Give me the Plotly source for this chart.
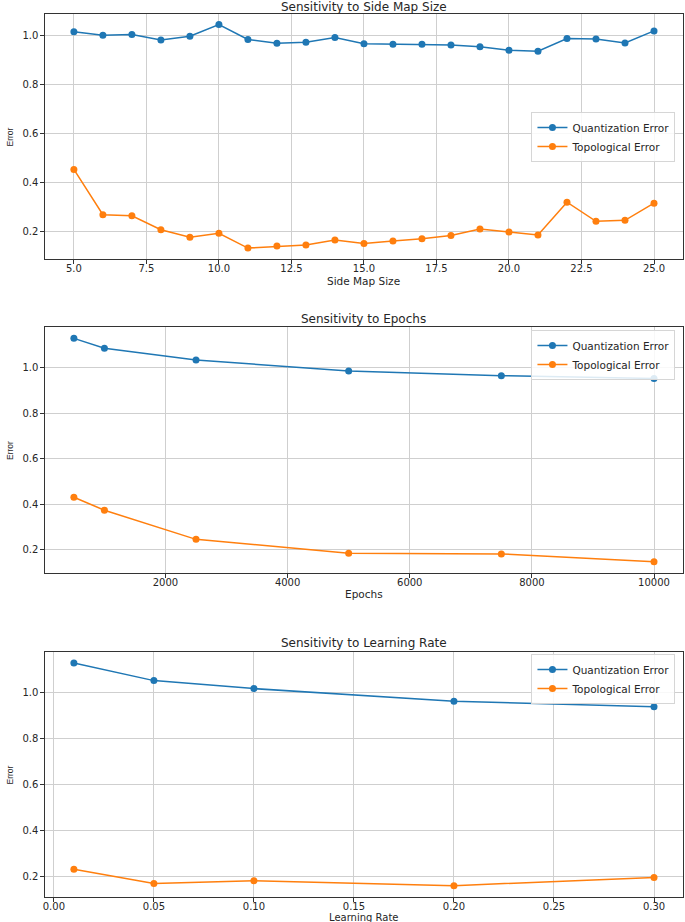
import plotly.graph_objects as go

# Sensitivity to Side Map Size
side_sizes = list(range(5, 26))
side_qe = [1.016, 1.001, 1.004, 0.982, 0.997, 1.045, 0.984, 0.969, 0.973, 0.992, 0.967,
           0.965, 0.965, 0.962, 0.954, 0.940, 0.936, 0.988, 0.986, 0.970, 1.019]
side_te = [0.454, 0.269, 0.265, 0.208, 0.177, 0.193, 0.133, 0.141, 0.146, 0.166, 0.152,
           0.162, 0.171, 0.184, 0.211, 0.199, 0.186, 0.320, 0.242, 0.246, 0.316]

# Sensitivity to Epochs
epochs = [500, 1000, 2500, 5000, 7500, 10000]
epochs_qe = [1.129, 1.086, 1.034, 0.985, 0.965, 0.953]
epochs_te = [0.430, 0.373, 0.245, 0.184, 0.181, 0.146]

# Sensitivity to Learning Rate
learning_rates = [0.01, 0.05, 0.10, 0.20, 0.30]
lr_qe = [1.131, 1.054, 1.019, 0.964, 0.940]
lr_te = [0.230, 0.168, 0.180, 0.158, 0.194]

AZUL = '#1f77b4'
LARANJA = '#ff7f0e'
FONTE = 'DejaVu Sans'
COR_TEXTO = '#262626'
W, H = 685, 922

# posições em pixels (a partir do topo) de cada painel
paineis = [
    dict(x=side_sizes, qe=side_qe, te=side_te, titulo='Sensitivity to Side Map Size',
         xtitulo='Side Map Size', top=14, bottom=259, ty=7, xty=281, xtam=10.5,
         xr=[4.0, 26.0], yr=[0.0884, 1.088],
         xticks=[5 + 2.5 * i for i in range(9)], xfmt='.1f',
         leg_y=137, leg_anchor='middle'),
    dict(x=epochs, qe=epochs_qe, te=epochs_te, titulo='Sensitivity to Epochs',
         xtitulo='Epochs', top=327, bottom=573, ty=319, xty=594, xtam=10.5,
         xr=[25, 10475], yr=[0.097, 1.179],
         xticks=[2000, 4000, 6000, 8000, 10000], xfmt='d',
         leg_y=330, leg_anchor='top'),
    dict(x=learning_rates, qe=lr_qe, te=lr_te, titulo='Sensitivity to Learning Rate',
         xtitulo='Learning Rate', top=652, bottom=897, ty=643, xty=917, xtam=10,
         xr=[-0.0045, 0.3145], yr=[0.1085, 1.179],
         xticks=[0.05 * i for i in range(7)], xfmt='.2f',
         leg_y=654, leg_anchor='top'),
]

fig = go.Figure()
x0, x1 = 43 / W, 683 / W

for i, p in enumerate(paineis):
    n = '' if i == 0 else str(i + 1)
    leg_nome = 'legend' + n
    fig.add_trace(go.Scatter(x=p['x'], y=p['qe'], name='Quantization Error', mode='lines+markers',
                             line=dict(color=AZUL, width=1.5), marker=dict(color=AZUL, size=7),
                             xaxis='x' + n, yaxis='y' + n, legend=leg_nome))
    fig.add_trace(go.Scatter(x=p['x'], y=p['te'], name='Topological Error', mode='lines+markers',
                             line=dict(color=LARANJA, width=1.5), marker=dict(color=LARANJA, size=7),
                             xaxis='x' + n, yaxis='y' + n, legend=leg_nome))

    y_top = 1 - p['top'] / H
    y_bot = 1 - p['bottom'] / H
    eixo = dict(showline=True, linecolor='#333333', linewidth=1, mirror=True,
                ticks='outside', ticklen=3.5, tickcolor='#333333',
                showgrid=True, gridcolor='#cfcfcf', gridwidth=1, zeroline=False,
                tickfont=dict(family=FONTE, size=10, color=COR_TEXTO))
    fig.update_layout({
        'xaxis' + n: dict(eixo, domain=[x0, x1], range=p['xr'], anchor='y' + n,
                          tickvals=p['xticks'], tickformat=p['xfmt'], ticklabelstandoff=-4),
        'yaxis' + n: dict(eixo, domain=[y_bot, y_top], range=p['yr'], anchor='x' + n,
                          tickvals=[0.2, 0.4, 0.6, 0.8, 1.0], tickformat='.1f'),
        leg_nome: dict(x=531 / W, y=1 - p['leg_y'] / H, xanchor='left', yanchor=p['leg_anchor'],
                       xref='paper', yref='paper', bgcolor='rgba(255,255,255,0.85)',
                       bordercolor='#d6d6d6', borderwidth=1,
                       font=dict(family=FONTE, size=10.5, color=COR_TEXTO),
                       tracegroupgap=0, itemwidth=30),
    })

    # título do painel
    fig.add_annotation(text=p['titulo'], xref='paper', yref='paper',
                       x=(x0 + x1) / 2, y=1 - p['ty'] / H, yanchor='middle', xanchor='center',
                       showarrow=False, font=dict(family=FONTE, size=12, color=COR_TEXTO))
    # rótulo do eixo x
    fig.add_annotation(text=p['xtitulo'], xref='paper', yref='paper',
                       x=(x0 + x1) / 2, y=1 - p['xty'] / H, yanchor='middle', xanchor='center',
                       showarrow=False, font=dict(family=FONTE, size=p['xtam'], color=COR_TEXTO))
    # rótulo do eixo y
    fig.add_annotation(text='Error', xref='paper', yref='paper', textangle=-90,
                       x=8 / W, y=(y_top + y_bot) / 2, yanchor='middle', xanchor='center',
                       showarrow=False,
                       font=dict(family='Liberation Sans Narrow, Liberation Sans', size=8.5,
                                 color=COR_TEXTO))

fig.update_layout(
    width=W, height=H,
    margin=dict(l=0, r=0, t=0, b=0),
    plot_bgcolor='white', paper_bgcolor='white',
    showlegend=True,
)

# sem margem no body, para a figura ocupar a janela inteira
fig.write_html('out.html', config={'displayModeBar': False},
               post_script="document.body.style.margin='0';")
